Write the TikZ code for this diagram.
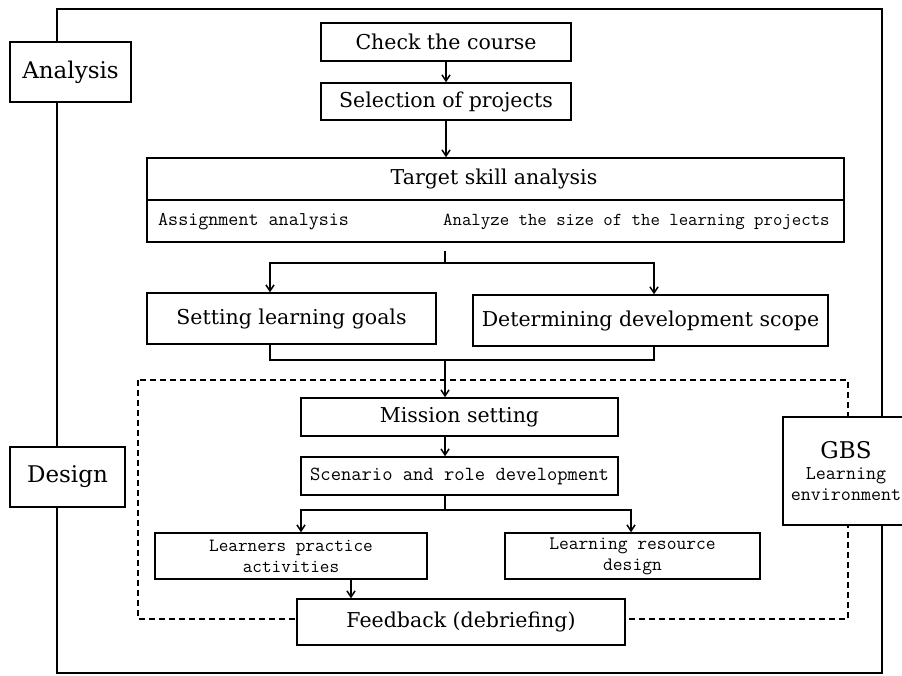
\documentclass[tikz,border=0pt]{standalone}
\usepackage{fontspec}
\setmainfont{DejaVu Serif}
\usetikzlibrary{arrows.meta}
\tikzset{
  box/.style={draw, line width=1.5pt, fill=white, inner sep=0pt, align=center, font=\fontsize{20.5}{24}\selectfont},
  sidebox/.style={box, font=\fontsize{23}{26}\selectfont},
  ttbox/.style={box, font=\ttfamily\fontsize{20}{22}\selectfont},
  title/.style={inner sep=0pt, font=\fontsize{20.5}{24}\selectfont},
  notetext/.style={inner sep=0pt, font=\ttfamily\fontsize{19.5}{22}\selectfont},
  line/.style={line width=1.5pt},
  arrow/.style={line width=1.5pt, -{Straight Barb[length=6pt,width=8pt]}},
  frame/.style={line width=1.5pt},
  dashframe/.style={line width=1.3pt, dash pattern=on 6pt off 4pt}
}
\begin{document}
\begin{tikzpicture}[x=1pt,y=-1pt]
  \useasboundingbox (0,0) rectangle (902,675);
  %%%%% START %%%%%

  % outer frame and GBS environment
  \draw[frame] (57,9) rectangle (882,673);
  \draw[dashframe] (138,380) rectangle (848,619);

  % phase labels
  \node[sidebox, minimum width=121pt, minimum height=60pt] (analysis) at (70.5,72) {Analysis};
  \node[sidebox, minimum width=115pt, minimum height=60pt] (design) at (67.5,477) {Design};
  \node[sidebox, minimum width=126pt, minimum height=108pt] (gbs) at (846,471)
    {GBS\\[-5pt]{\ttfamily\fontsize{19.5}{20}\selectfont Learning}\\[-5pt]{\ttfamily\fontsize{19.5}{20}\selectfont environment}};

  % analysis steps
  \node[box, minimum width=250pt, minimum height=38pt] (check) at (446,42) {Check the course};
  \node[box, minimum width=250pt, minimum height=37pt] (select) at (446,101.5) {Selection of projects};

  \node[box, minimum width=697pt, minimum height=84pt] (target) at (495.5,200) {};
  \draw[line] (target.west) -- (target.east);
  \node[title] (targettitle) at (494,179) {Target skill analysis};
  \node[notetext, anchor=west] (assign) at (158,222) {Assignment analysis};
  \node[notetext, anchor=west, font=\ttfamily\fontsize{18.3}{20}\selectfont] (size) at (443,222) {Analyze the size of the learning projects};

  \node[box, minimum width=289pt, minimum height=51pt] (goals) at (291.5,318.5) {Setting learning goals};
  \node[box, minimum width=355pt, minimum height=51pt] (scope) at (650.5,320.5) {Determining development scope};

  % design steps
  \node[box, minimum width=317pt, minimum height=38pt] (mission) at (459.5,417) {Mission setting};
  \node[ttbox, minimum width=317pt, minimum height=38pt] (scenario) at (459.5,476) {Scenario and role development};
  \node[ttbox, minimum width=272pt, minimum height=46pt, font=\ttfamily\fontsize{18.7}{21}\selectfont] (learners) at (291,556) {Learners practice\\activities};
  \node[ttbox, minimum width=255pt, minimum height=46pt, font=\ttfamily\fontsize{19}{21}\selectfont] (resource) at (632.5,556) {Learning resource\\design};
  \node[box, minimum width=328pt, minimum height=46pt] (feedback) at (461,622) {Feedback (debriefing)};

  % connectors
  \draw[arrow] (check) -- (select);
  \draw[arrow] (select.south) -- (select.south |- target.north);

  \coordinate (fork1) at (445,263);
  \draw[line] (fork1 |- target.south) ++(0,8) -- (fork1);
  \draw[arrow] (fork1) -| (270,0 |- goals.north);
  \draw[arrow] (fork1) -| (654,0 |- scope.north);

  \coordinate (merge) at (445,360);
  \draw[line] (270,0 |- goals.south) |- (merge);
  \draw[line] (654,0 |- scope.south) |- (merge);
  \draw[arrow] (merge) -- (merge |- mission.north);

  \draw[arrow] (445,0 |- mission.south) -- (445,0 |- scenario.north);

  \coordinate (fork2) at (445,510);
  \draw[line] (fork2 |- scenario.south) -- (fork2);
  \draw[arrow] (fork2) -| (301,0 |- learners.north);
  \draw[arrow] (fork2) -| (631,0 |- resource.north);
  \draw[arrow] (351,0 |- learners.south) -- (351,0 |- feedback.north);

  %%%%% END %%%%%
\end{tikzpicture}
\end{document}
